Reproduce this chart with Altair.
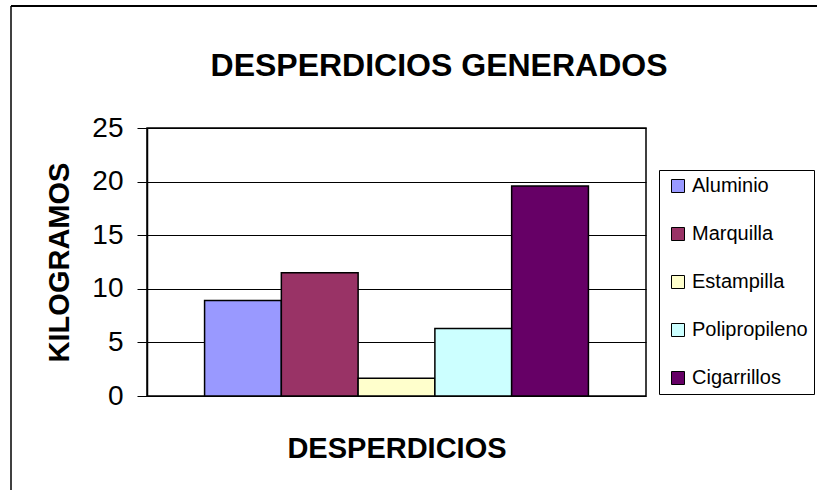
import altair as alt
import pandas as pd

# Waste generated, by material (kg)
categories = ["Aluminio", "Marquilla", "Estampilla", "Polipropileno", "Cigarrillos"]
kilos = [8.9, 11.5, 1.65, 6.3, 19.6]
colors = ["#9999FF", "#993366", "#FFFFCC", "#CCFFFF", "#660066"]
y_ticks = [0, 5, 10, 15, 20, 25]

FONT = "Liberation Sans"

df = pd.DataFrame({"desperdicio": categories, "kg": kilos})

bars = alt.Chart(df).mark_bar(stroke="black", strokeWidth=1.5, opacity=1).encode(
    x=alt.X(
        "desperdicio:N",
        sort=categories,
        scale=alt.Scale(paddingInner=0, paddingOuter=0.75),
        axis=alt.Axis(
            labels=False, ticks=False, domain=False,
            title="DESPERDICIOS",
            titleFont=FONT, titleFontSize=29, titleFontWeight="bold",
            titleColor="black", titleX=249.5, titleY=61,
            titleBaseline="alphabetic", titleAlign="center",
        ),
    ),
    y=alt.Y(
        "kg:Q",
        scale=alt.Scale(domain=[0, 25], nice=False),
        axis=alt.Axis(
            values=y_ticks, grid=True, gridColor="black", gridWidth=1,
            domain=True, domainColor="black", domainWidth=1.5,
            ticks=True, tickColor="black", tickSize=10, tickWidth=1,
            labelFont=FONT, labelFontSize=28, labelColor="black", labelPadding=14,
            title="KILOGRAMOS",
            titleFont=FONT, titleFontSize=29, titleFontWeight="bold",
            titleColor="black", titleX=-79, titleY=134, titleAngle=270,
            titleBaseline="alphabetic", titleAlign="center",
        ),
    ),
    color=alt.Color(
        "desperdicio:N",
        sort=categories,
        scale=alt.Scale(domain=categories, range=colors),
        legend=alt.Legend(
            title=None, orient="none", legendX=512, legendY=42,
            symbolType="square", symbolSize=169, symbolStrokeColor="black",
            symbolStrokeWidth=1, symbolOpacity=1, symbolOffset=3,
            labelFont=FONT, labelFontSize=20, labelColor="black", labelOffset=4,
            rowPadding=28, padding=6, strokeColor="black", fillColor="white",
        ),
    ),
)

# Outer chart-area frame (top and left edges)
frame_df = pd.DataFrame({"k": [0]})
frame_left = alt.Chart(frame_df).mark_rule(color="black", strokeWidth=1.5).encode(
    x=alt.value(-136), y=alt.value(-122), y2=alt.value(380)
)
frame_top = alt.Chart(frame_df).mark_rule(color="black", strokeWidth=2).encode(
    x=alt.value(-136), x2=alt.value(700), y=alt.value(-122)
)

chart = alt.layer(frame_left, frame_top, bars).properties(
    width=499,
    height=268,
    autosize=alt.AutoSizeParams(type="none"),
    padding={"left": 147, "top": 128, "right": 171, "bottom": 94},
    background="white",
    title=alt.TitleParams(
        text="DESPERDICIOS GENERADOS",
        font=FONT, fontSize=32, fontWeight="bold", color="black",
        anchor="middle", frame="group", baseline="alphabetic",
        offset=0, dx=42.5, dy=103,
    ),
).configure_view(stroke="black", strokeWidth=1.5)

chart.save("out.html", embed_options={"renderer": "svg", "actions": False})
